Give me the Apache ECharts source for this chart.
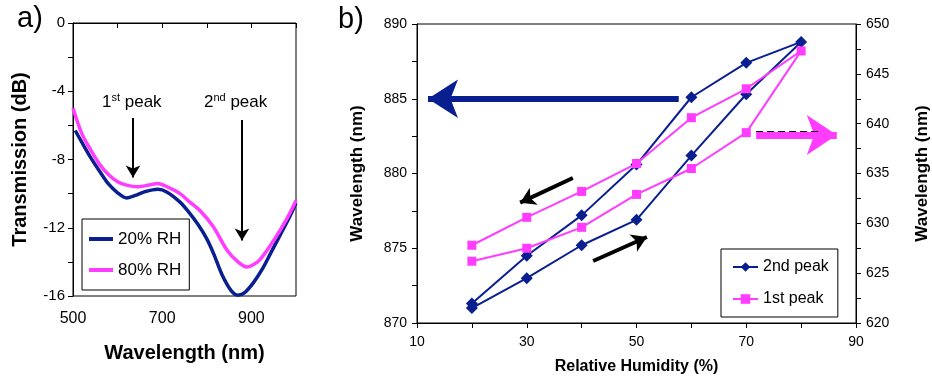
<!DOCTYPE html>
<html>
<head>
<meta charset="utf-8">
<script src="https://cdn.jsdelivr.net/npm/echarts@6/dist/echarts.min.js"></script>
<style>
  html, body { margin: 0; padding: 0; background: #fff; }
  #chart { width: 932px; height: 377px; }
</style>
</head>
<body>
<div id="chart"></div>
<script>
// panel a: transmission spectra
const wl20 = [505, 520, 540, 560, 580, 600, 620, 640, 660, 690, 710, 740, 760, 780, 800, 815, 835, 855, 870, 885, 905, 925, 945, 965, 985, 1000]
const tr20 = [-6.3, -7.0, -7.9, -8.7, -9.45, -9.95, -10.25, -10.1, -9.9, -9.75, -9.9, -10.5, -11.1, -11.8, -12.65, -13.5, -14.8, -15.7, -15.95, -15.8, -15.2, -14.4, -13.4, -12.4, -11.4, -10.55]
const wl80 = [500, 520, 540, 560, 580, 600, 620, 645, 670, 690, 715, 740, 760, 785, 815, 845, 870, 890, 905, 920, 950, 980, 1000]
const tr80 = [-5.0, -6.5, -7.45, -8.3, -8.9, -9.3, -9.5, -9.6, -9.5, -9.4, -9.65, -10.0, -10.45, -11.0, -11.95, -13.3, -14.0, -14.3, -14.15, -13.85, -12.75, -11.45, -10.4]

// panel b: peak wavelength vs RH (up then down)
const rh = [20, 30, 40, 50, 60, 70, 80, 70, 60, 50, 40, 30, 20]
const peak2 = [871.0, 873.0, 875.2, 876.9, 881.2, 885.3, 888.8, 887.4, 885.1, 880.6, 877.2, 874.5, 871.3]
const peak1 = [626.2, 627.5, 629.6, 632.9, 635.5, 639.1, 647.3, 643.5, 640.6, 636.0, 633.2, 630.6, 627.8]

const navy = '#0a1f8f'
const pink = '#ff3cff'
const font = 'Liberation Sans, Arial, sans-serif'

const zip = (xs, ys) => xs.map((x, i) => [x, ys[i]])

// arrow for markLine, tip lands on `to`
function arrow(from, to, color, width, headW, headL) {
  const ls = { color: color, width: width, type: 'solid', opacity: 1 }
  return [
    { coord: from, symbol: 'none', lineStyle: ls },
    { coord: to, symbol: 'arrow', symbolSize: [headW, headL], lineStyle: ls }
  ]
}

const axisBase = {
  axisLine: { show: true, lineStyle: { color: '#000', width: 1 } },
  axisTick: { show: true, length: 5, lineStyle: { color: '#000' } },
  splitLine: { show: false },
  axisLabel: { color: '#000', fontFamily: font }
}

const option = {
  animation: false,
  textStyle: { fontFamily: font },
  grid: [
    { left: 73, top: 23, width: 223, height: 273, show: true, borderColor: '#000', borderWidth: 1, outerBoundsMode: 'none', containLabel: false },
    { left: 417, top: 24, width: 439, height: 299, show: true, borderColor: '#000', borderWidth: 1, outerBoundsMode: 'none', containLabel: false }
  ],
  xAxis: [
    {
      ...axisBase, gridIndex: 0, type: 'value', min: 500, max: 1000, interval: 100,
      axisLabel: { ...axisBase.axisLabel, fontSize: 16, margin: 15,
        formatter: v => (v === 500 || v === 700 || v === 900) ? String(v) : '' },
      name: 'Wavelength (nm)', nameLocation: 'middle', nameGap: 47,
      nameTextStyle: { fontSize: 20, fontWeight: 'bold', color: '#000', fontFamily: font }
    },
    {
      ...axisBase, gridIndex: 1, type: 'value', min: 10, max: 90, interval: 10,
      axisLabel: { ...axisBase.axisLabel, fontSize: 14, margin: 12,
        formatter: v => ((v - 10) % 20 === 0) ? String(v) : '' },
      name: 'Relative Humidity (%)', nameLocation: 'middle', nameGap: 36,
      nameTextStyle: { fontSize: 16, fontWeight: 'bold', color: '#000', fontFamily: font }
    }
  ],
  yAxis: [
    {
      ...axisBase, gridIndex: 0, type: 'value', min: -16, max: 0, interval: 4,
      minorTick: { show: true, splitNumber: 2, length: 5, lineStyle: { color: '#000' } },
      axisLabel: { ...axisBase.axisLabel, fontSize: 15, margin: 8 },
      name: 'Transmission (dB)', nameLocation: 'middle', nameGap: 43,
      nameTextStyle: { fontSize: 20, fontWeight: 'bold', color: '#000', fontFamily: font }
    },
    {
      ...axisBase, gridIndex: 1, type: 'value', position: 'left', min: 870, max: 890, interval: 5,
      minorTick: { show: true, splitNumber: 2, length: 5, lineStyle: { color: '#000' } },
      axisLabel: { ...axisBase.axisLabel, fontSize: 14, margin: 10 },
      name: 'Wavelength (nm)', nameLocation: 'middle', nameGap: 51,
      nameTextStyle: { fontSize: 17, fontWeight: 'bold', color: '#000', fontFamily: font }
    },
    {
      ...axisBase, gridIndex: 1, type: 'value', position: 'right', min: 620, max: 650, interval: 5,
      minorTick: { show: true, splitNumber: 2, length: 5, lineStyle: { color: '#000' } },
      axisLabel: { ...axisBase.axisLabel, fontSize: 14, margin: 10 },
      name: 'Wavelength (nm)', nameLocation: 'middle', nameGap: 58,
      nameTextStyle: { fontSize: 17, fontWeight: 'bold', color: '#000', fontFamily: font }
    }
  ],
  legend: [
    {
      data: [{ name: '20% RH', icon: 'rect' }, { name: '80% RH', icon: 'rect' }],
      left: 82, top: 219, orient: 'vertical', selectedMode: false,
      itemWidth: 24, itemHeight: 4, itemGap: 11, padding: [10, 8, 10, 7],
      borderColor: '#000', borderWidth: 1, borderRadius: 0, backgroundColor: '#fff',
      textStyle: { fontSize: 17, lineHeight: 20, color: '#000', fontFamily: font }
    },
    {
      data: ['2nd peak', '1st peak'],
      left: 721, top: 249, orient: 'vertical', selectedMode: false,
      itemWidth: 25, itemHeight: 12, itemGap: 14, padding: [9, 9, 9, 11],
      borderColor: '#000', borderWidth: 1, borderRadius: 0, backgroundColor: '#fff',
      textStyle: { fontSize: 16, lineHeight: 18, color: '#000', fontFamily: font }
    }
  ],
  graphic: [
    { type: 'text', left: 17, top: 4, style: { text: 'a)', fontSize: 29, fontFamily: font, fill: '#000' } },
    { type: 'text', left: 338, top: 5, style: { text: 'b)', fontSize: 29, fontFamily: font, fill: '#000' } },
    {
      type: 'text', left: 102, top: 92,
      style: {
        text: '{n|1}{s|st}{n| peak}', fill: '#000',
        rich: {
          n: { fontSize: 17, lineHeight: 20, fontFamily: font, color: '#000' },
          s: { fontSize: 11, lineHeight: 12, fontFamily: font, color: '#000', verticalAlign: 'top' }
        }
      }
    },
    {
      type: 'text', left: 204, top: 92,
      style: {
        text: '{n|2}{s|nd}{n| peak}', fill: '#000',
        rich: {
          n: { fontSize: 17, lineHeight: 20, fontFamily: font, color: '#000' },
          s: { fontSize: 11, lineHeight: 12, fontFamily: font, color: '#000', verticalAlign: 'top' }
        }
      }
    }
  ],
  series: [
    {
      name: '20% RH', type: 'line', xAxisIndex: 0, yAxisIndex: 0,
      data: zip(wl20, tr20), symbol: 'none', smooth: 0.3, color: navy,
      lineStyle: { color: navy, width: 3.5 },
      markLine: {
        silent: true, animation: false, label: { show: false },
        data: [
          arrow([634.5, -5.57], [634.5, -9.05], '#000', 2, 11, 12),
          arrow([878.9, -5.69], [878.9, -12.75], '#000', 2, 11, 12)
        ]
      }
    },
    {
      name: '80% RH', type: 'line', xAxisIndex: 0, yAxisIndex: 0,
      data: zip(wl80, tr80), symbol: 'none', smooth: 0.3, color: pink,
      lineStyle: { color: pink, width: 3.5 }
    },
    {
      name: '2nd peak', type: 'line', xAxisIndex: 1, yAxisIndex: 1,
      data: zip(rh, peak2), symbol: 'diamond', symbolSize: 12, color: navy,
      lineStyle: { color: navy, width: 2 }, itemStyle: { color: navy },
      markLine: {
        silent: true, animation: false, label: { show: false },
        data: [
          arrow([57.7, 885.0], [12.0, 885.0], navy, 6, 29, 30),
          arrow([38.4, 879.7], [28.8, 878.05], '#000', 4, 14, 15),
          arrow([42.1, 874.15], [51.9, 875.75], '#000', 4, 14, 15)
        ]
      }
    },
    {
      name: '1st peak', type: 'line', xAxisIndex: 1, yAxisIndex: 2,
      data: zip(rh, peak1), symbol: 'rect', symbolSize: 9, color: pink,
      lineStyle: { color: pink, width: 2 }, itemStyle: { color: pink },
      markLine: {
        silent: true, animation: false, label: { show: false },
        data: [
          arrow([71.8, 638.86], [86.5, 638.86], pink, 7, 30, 30),
          [
            { coord: [71.8, 639.2], symbol: 'none', lineStyle: { color: '#000', width: 1, type: [7, 4] } },
            { coord: [83.5, 639.2], symbol: 'none', lineStyle: { color: '#000', width: 1, type: [7, 4] } }
          ]
        ]
      }
    }
  ]
}

const chart = echarts.init(document.getElementById('chart'))
chart.setOption(option)
</script>
</body>
</html>
